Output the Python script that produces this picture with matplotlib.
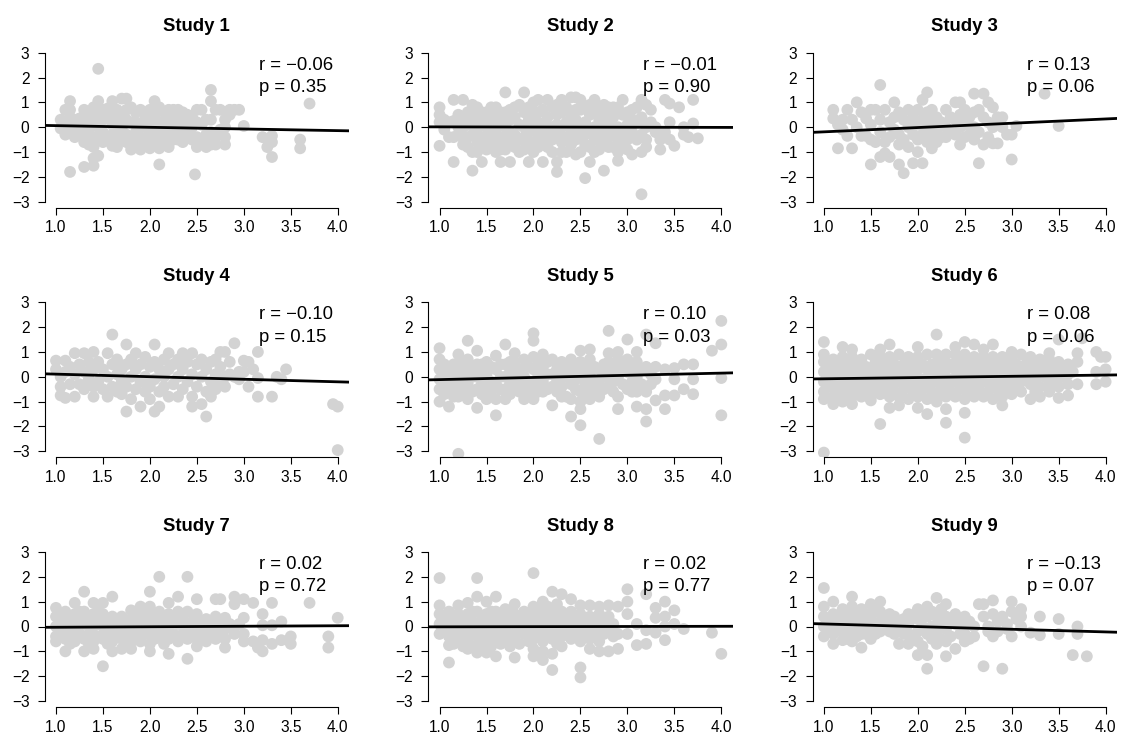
import numpy as np
from matplotlib import pyplot as plt

plt.rcParams['font.family'] = ['Liberation Sans', 'DejaVu Sans']

# each study: (x, [y values at that x])
study1 = [(1.05, [-0.05, 0.3]), (1.1, [0.7, 0.1, -0.3]), (1.15, [1.05, 0.7, 0.4, -0.2, -1.8]),
          (1.2, [0.3, -0.4, 0.0]), (1.25, [0.35, -0.2]), (1.3, [0.7, 0.2, -0.3, -0.6, -1.6]),
          (1.35, [0.5, -0.1, -0.7]), (1.4, [0.8, 0.2, -0.4, -0.8, -1.25, -1.55]),
          (1.45, [2.35, 1.05, 0.5, 0.0, -0.5, -1.15]), (1.5, [0.7, 0.3, -0.2, -0.6]),
          (1.55, [0.4, -0.4, 0.75]), (1.6, [1.05, 0.6, 0.1, -0.3, -0.75]), (1.65, [0.7, 0.3, -0.1, -0.5, -0.8]),
          (1.7, [1.15, 0.5, 0.0, -0.5]), (1.75, [1.15, 0.7, 0.3, -0.3, -0.6]), (1.8, [0.8, 0.2, -0.5, -0.9]),
          (1.85, [0.6, 0.2, -0.2, -0.6]), (1.9, [0.7, 0.1, -0.4, -0.9]), (1.95, [0.4, 0.0, -0.6]),
          (2.0, [0.7, 0.3, -0.3, -0.85]), (2.05, [1.05, 0.5, 0.0, -0.6]), (2.1, [0.8, 0.2, -0.4, -0.85, -1.5]),
          (2.15, [0.6, 0.2, -0.2, -0.6]), (2.2, [0.7, 0.3, -0.3, -0.8]), (2.25, [0.7, 0.3, 0.0, -0.5]),
          (2.3, [0.7, 0.3, -0.2, -0.5]), (2.35, [0.6, 0.1, -0.3, -0.6]), (2.4, [0.5, 0.2, -0.2]),
          (2.45, [0.4, 0.0, -0.5]), (2.48, [-1.9]), (2.5, [0.7, 0.2, -0.4, -0.8]), (2.55, [0.7, 0.1, -0.5]),
          (2.6, [0.3, -0.3, -0.8]), (2.65, [1.5, 1.05, 0.3, -0.2, -0.7]), (2.7, [0.7, -0.4, -0.7]),
          (2.75, [0.7, -0.1]), (2.8, [0.3, -0.4, -0.7, 0.0]), (2.85, [0.7, 0.5]), (2.9, [0.7]),
          (2.95, [0.7]), (3.0, [0.05]), (3.2, [-0.4]), (3.25, [-0.8]), (3.3, [-0.35, -0.6, -1.2]),
          (3.6, [-0.5, -0.85]), (3.7, [0.95])]

study2 = [(1.0, [0.8, 0.5, 0.2, -0.75]), (1.05, [0.3, -0.1]), (1.1, [0.2, -0.4]),
          (1.15, [1.1, 0.25, -0.4, -1.4]), (1.2, [0.5, 0.0, -0.3]), (1.25, [1.1, 0.4, 0.0, -0.4, -0.7]),
          (1.3, [0.6, 0.1, -0.4, -0.8]), (1.35, [0.9, 0.3, -0.3, -1.0, -1.75]),
          (1.4, [0.8, 0.5, -0.1, -0.6, -1.0]), (1.45, [0.6, 0.2, -0.4, -0.8, -1.4]), (1.5, [0.6, 0.0, -0.5, -0.9]),
          (1.55, [0.8, 0.3, -0.2, -0.7]), (1.6, [0.8, 0.4, -0.1, -0.6, -1.0]), (1.65, [0.6, 0.2, -0.4, -0.9, -1.4]),
          (1.7, [1.4, 0.6, 0.0, -0.5, -0.9]), (1.75, [0.7, 0.3, -0.2, -0.7, -1.4]), (1.8, [0.8, 0.4, -0.3, -0.8]),
          (1.85, [0.9, 0.1, -0.5, -1.0]), (1.9, [1.4, 0.6, 0.0, -0.4, -0.9]), (1.95, [0.8, 0.3, -0.2, -0.6, -1.4]),
          (2.0, [1.0, 0.5, -0.1, -0.6, -1.0]), (2.05, [1.1, 0.6, 0.2, -0.3, -0.8]), (2.1, [0.7, 0.1, -0.5, -1.4]),
          (2.15, [1.1, 0.4, -0.2, -0.8]), (2.2, [0.8, 0.0, -0.5, -1.0]), (2.25, [0.9, 0.5, 0.1, -0.3, -1.4, -1.8]),
          (2.3, [1.1, 0.6, 0.0, -0.6, -1.0]), (2.35, [0.8, 0.2, -0.4, -1.0]), (2.4, [1.2, 0.5, -0.1, -0.7]),
          (2.45, [1.2, 0.7, 0.3, -0.1, -0.5, -1.1]), (2.5, [1.1, 0.7, 0.0, -0.4, -1.0]),
          (2.55, [0.8, 0.2, -0.3, -0.7, -2.05]), (2.6, [0.9, 0.5, -0.2, -0.8, -1.4]),
          (2.65, [1.1, 0.6, 0.0, -0.5, -1.0]), (2.7, [0.8, 0.3, -0.3, -0.9]),
          (2.75, [0.9, 0.5, -0.1, -0.6, -1.75]), (2.8, [0.8, 0.2, -0.4, -0.8]), (2.85, [0.8, 0.4, -0.2, -0.8]),
          (2.9, [0.8, 0.0, -0.5, -1.0, -1.35]), (2.95, [1.1, 0.5, -0.2, -0.6]), (3.0, [0.6, 0.1, -0.5, -0.9]),
          (3.05, [0.7, 0.3, -0.2, -1.1]), (3.1, [0.8, 0.2, -0.5]), (3.15, [1.1, 0.4, -0.3, -1.0, -2.7]),
          (3.2, [0.9, 0.0, -0.5, -0.8]), (3.25, [0.7, 0.2]), (3.3, [0.0, -0.2]), (3.35, [-0.5, -0.9]),
          (3.4, [1.1, -0.2]), (3.45, [0.95, 0.2, -0.5]), (3.5, [-0.75]), (3.55, [0.8]),
          (3.6, [0.0, -0.3]), (3.65, [-0.4]), (3.7, [1.1, 0.15]), (3.75, [-0.45])]

study3 = [(1.1, [0.7, 0.35]), (1.15, [-0.85, 0.1]), (1.2, [0.3, -0.1]), (1.25, [0.7, -0.35]),
          (1.3, [0.3, -0.85]), (1.35, [1.0, 0.0]), (1.4, [0.6, -0.35]), (1.45, [0.35, -0.35]),
          (1.5, [0.7, 0.1, -0.5, -1.5]), (1.55, [0.7, -0.6]), (1.6, [1.7, 0.3, -0.2, -1.2]),
          (1.65, [0.7, -0.6, -1.05]), (1.7, [0.2, -0.4, -1.2]), (1.75, [1.0, 0.4, -0.1]),
          (1.8, [0.6, -0.3, -0.7, -1.5]), (1.85, [0.3, -0.5, -1.85]), (1.9, [0.7, 0.0, -0.8]),
          (1.95, [0.4, -0.3, -1.45]), (2.0, [0.7, 0.1, -0.5, -1.0]), (2.05, [1.1, 0.3, -0.3, -1.45]),
          (2.1, [1.4, 0.6, 0.0, -0.6]), (2.15, [0.7, 0.2, -0.4, -0.85]), (2.2, [0.4, -0.2, -0.6]),
          (2.25, [0.2, -0.4]), (2.3, [0.7, 0.0, -0.4]), (2.35, [0.4, -0.2]), (2.4, [1.0, 0.3, -0.3]),
          (2.45, [1.0, 0.5, 0.0, -0.7]), (2.5, [0.7, 0.1, -0.4]), (2.55, [0.4, -0.3]),
          (2.6, [1.35, 0.6, 0.0, -0.5]), (2.65, [0.7, -0.2, -1.45]), (2.7, [1.35, 0.4, -0.7]),
          (2.75, [1.0, 0.2, -0.4]), (2.8, [0.8, 0.0, -0.65]), (2.85, [0.4, -0.65]), (2.9, [0.4, 0.0]),
          (2.95, [-0.3]), (3.0, [-0.3, -1.3]), (3.05, [0.05]), (3.35, [1.35]), (3.5, [0.05])]

study4 = [(1.0, [0.65, 0.3]), (1.05, [0.0, -0.4, -0.75]), (1.1, [0.65, 0.2, -0.85]), (1.15, [0.4, -0.3]),
          (1.2, [0.95, 0.1, -0.8]), (1.25, [0.5, -0.3]), (1.3, [0.95, 0.2, -0.5]), (1.35, [0.6, -0.1]),
          (1.4, [1.0, 0.3, -0.4, -0.8]), (1.45, [0.6, -0.2]), (1.5, [0.3, -0.5]), (1.55, [0.95, 0.0, -0.8]),
          (1.6, [1.7, 0.5, -0.4]), (1.65, [0.7, 0.1, -0.6]), (1.7, [0.3, -0.2, -0.7]),
          (1.75, [1.3, 0.5, -0.4, -1.4]), (1.8, [0.7, 0.0, -0.9]), (1.85, [0.95, 0.3, -0.5]),
          (1.9, [0.5, -0.2, -1.2]), (1.95, [0.8, 0.0, -0.6]), (2.0, [0.4, -0.4, -0.9]),
          (2.05, [1.3, 0.6, -0.1, -1.4]), (2.1, [0.3, -0.6, -1.2]), (2.15, [0.7, 0.0, -0.4]),
          (2.2, [0.95, 0.3, -0.8]), (2.25, [0.5, -0.3]), (2.3, [0.7, 0.0, -0.8]), (2.35, [0.95, 0.3, -0.5]),
          (2.4, [0.6, -0.2]), (2.45, [0.95, 0.1, -0.8, -1.2]), (2.5, [0.5, -0.4]), (2.55, [0.7, 0.0, -1.1]),
          (2.6, [0.3, -0.6, -1.6]), (2.65, [0.6, -0.2, -0.8]), (2.7, [0.7, 0.1, -0.5]),
          (2.75, [1.0, 0.4, -0.3]), (2.8, [1.0, 0.0, -0.4]), (2.85, [0.6, 0.1]), (2.9, [1.35, 0.0]),
          (2.95, [0.2, -0.1]), (3.0, [0.65, 0.2]), (3.05, [-0.4, 0.6]), (3.1, [0.3]),
          (3.15, [1.0, -0.05, -0.8]), (3.3, [-0.8]), (3.35, [0.0]), (3.4, [-0.1]), (3.45, [0.3]),
          (3.95, [-1.1]), (4.0, [-1.2, -2.95])]

study5 = [(1.0, [1.15, 0.7, 0.3, -0.1, -0.5, -1.0]), (1.05, [0.5, 0.0, -0.4, -0.7]),
          (1.1, [0.4, 0.0, -0.2, -0.6, -1.2]), (1.15, [0.5, 0.2, -0.4, -0.8]),
          (1.2, [0.9, 0.5, 0.0, -0.5, -0.8, -3.1]), (1.25, [0.5, 0.3, -0.2, -0.6]),
          (1.3, [1.45, 0.7, 0.2, -0.3, -0.9]), (1.35, [0.4, 0.0, -0.6]), (1.4, [1.05, 0.5, 0.0, -0.5, -1.25]),
          (1.45, [0.5, 0.2, -0.3, -0.7]), (1.5, [0.6, 0.1, -0.4, -0.9]), (1.55, [0.4, -0.2, -0.6]),
          (1.6, [0.85, 0.3, -0.3, -0.9, -1.55]), (1.65, [0.5, 0.0, -0.5]), (1.7, [1.3, 0.5, 0.0, -0.5, -0.9]),
          (1.75, [0.6, 0.3, -0.3, -0.7]), (1.8, [0.95, 0.6, 0.1, -0.4]), (1.85, [0.3, -0.2, -0.6]),
          (1.9, [0.7, 0.0, -0.4, -0.9]), (1.95, [0.4, -0.2, -0.6]), (2.0, [1.75, 1.45, 0.8, 0.3, -0.3, -0.9]),
          (2.05, [0.5, 0.0, -0.6]), (2.1, [0.9, 0.4, -0.2, -0.6]), (2.15, [0.6, 0.1, -0.5]),
          (2.2, [0.7, 0.1, -0.4, -1.15]), (2.25, [0.5, 0.3, -0.2, -0.6]), (2.3, [0.6, 0.0, -0.4, -0.8]),
          (2.35, [0.4, 0.0, -0.8]), (2.4, [0.7, 0.2, -0.3, -0.9, -1.6]), (2.45, [0.4, -0.1, -0.5]),
          (2.5, [1.05, 0.6, 0.0, -0.6, -1.0, -1.3, -1.95]), (2.55, [0.3, -0.3, -0.7]),
          (2.6, [1.1, 0.7, 0.1, -0.5, -0.9]), (2.65, [0.4, -0.2, -0.6]), (2.7, [0.3, -0.3, -0.8, -2.5]),
          (2.75, [0.5, 0.0, -0.5]), (2.8, [1.85, 0.95, 0.6, 0.2, -0.4]), (2.85, [0.3, -0.2, -0.6]),
          (2.9, [1.0, 0.7, 0.0, -0.8, -1.3]), (2.95, [0.4, -0.3]), (3.0, [1.5, 0.7, 0.2, -0.5]),
          (3.05, [0.4, -0.2, -0.6]), (3.1, [1.0, 0.6, 0.0, -0.6, -1.2]), (3.15, [0.3, -0.3]),
          (3.2, [1.7, 0.4, -0.6, -1.3, -1.8]), (3.25, [0.1, -0.3]), (3.3, [1.35, 0.4, -0.1, -0.95]),
          (3.4, [0.3, -0.75, -1.3]), (3.5, [0.35, -0.1, -0.75]), (3.6, [0.5, -0.5]),
          (3.7, [0.5, -0.1, -0.7]), (3.9, [1.05]), (4.0, [2.25, 1.3, -0.05, -1.55])]

study6 = [(1.0, [1.4, 0.9, 0.6, 0.2, -0.2, -0.6, -0.9, -3.05]), (1.05, [0.4, 0.0, -0.4]),
          (1.1, [0.7, 0.2, -0.3, -0.8, -1.1]), (1.15, [0.5, -0.1, -0.5]), (1.2, [1.2, 0.8, 0.3, -0.2, -0.7, -1.0]),
          (1.25, [0.5, 0.0, -0.5]), (1.3, [1.1, 0.8, 0.2, -0.3, -0.8, -1.1]), (1.35, [0.5, -0.1, -0.6]),
          (1.4, [0.7, 0.2, -0.3, -0.8]), (1.45, [0.4, -0.1, -0.5]), (1.5, [0.9, 0.3, -0.2, -0.7, -0.95]),
          (1.55, [0.6, 0.0, -0.5]), (1.6, [1.1, 0.8, 0.3, -0.2, -0.7, -1.9]), (1.65, [0.5, 0.0, -0.5]),
          (1.7, [1.3, 0.8, 0.2, -0.3, -0.8, -1.25]), (1.75, [0.5, 0.0, -0.6]),
          (1.8, [0.9, 0.3, -0.2, -0.8, -1.15]), (1.85, [0.5, -0.1, -0.5]), (1.9, [0.8, 0.2, -0.3, -0.9]),
          (1.95, [0.5, 0.0, -0.6]), (2.0, [1.2, 0.8, 0.3, -0.2, -0.8, -1.25]), (2.05, [0.5, -0.1, -0.5]),
          (2.1, [0.9, 0.3, -0.3, -0.9, -1.5]), (2.15, [0.5, 0.0, -0.6]), (2.2, [1.7, 0.9, 0.3, -0.2, -0.7, -1.0]),
          (2.25, [0.6, 0.0, -0.5]), (2.3, [0.9, 0.3, -0.3, -0.8, -1.3, -1.85]), (2.35, [0.5, -0.1, -0.6]),
          (2.4, [1.2, 0.9, 0.3, -0.2, -0.8]), (2.45, [0.6, 0.0, -0.5]),
          (2.5, [1.4, 0.9, 0.3, -0.3, -0.9, -1.45, -2.45]), (2.55, [0.5, 0.0, -0.6]),
          (2.6, [1.3, 0.8, 0.2, -0.3, -0.8]), (2.65, [0.5, -0.1, -0.5]), (2.7, [1.1, 0.8, 0.3, -0.2, -0.8]),
          (2.75, [0.5, 0.0, -0.6]), (2.8, [1.3, 0.8, 0.2, -0.3, -0.9]), (2.85, [0.5, -0.1, -0.5]),
          (2.9, [0.8, 0.3, -0.3, -0.8, -1.15]), (2.95, [0.5, 0.0, -0.5]), (3.0, [1.0, 0.8, 0.2, -0.3, -0.7]),
          (3.05, [0.5, 0.0, -0.5]), (3.1, [0.9, 0.3, -0.2, -0.6]), (3.15, [0.5, 0.0]),
          (3.2, [0.8, 0.3, -0.3, -0.9]), (3.25, [0.5, -0.1, -0.6]), (3.3, [0.7, 0.2, -0.4, -0.8]),
          (3.35, [0.4, 0.0]), (3.4, [0.95, 0.7, 0.2, -0.3, -0.6]), (3.45, [0.4, -0.1]),
          (3.5, [1.5, 0.6, 0.2, -0.4, -0.85]), (3.55, [0.3, 0.0]), (3.6, [0.5, 0.1, -0.3, -0.75]),
          (3.65, [0.2]), (3.7, [0.95, 0.6, -0.3]), (3.75, [1.55]), (3.9, [1.0, 0.2, -0.3]),
          (3.95, [0.8]), (4.0, [0.8, 0.3, -0.2])]

study7 = [(1.0, [0.75, 0.4, 0.0, -0.4, -0.6]), (1.05, [0.5, 0.2, -0.2]), (1.1, [0.6, 0.1, -0.5, -1.0]),
          (1.15, [0.3, -0.3, -0.7]), (1.2, [0.95, 0.5, 0.0, -0.6]), (1.25, [0.6, 0.3, -0.3]),
          (1.3, [1.4, 0.6, 0.1, -0.5, -1.0]), (1.35, [0.3, -0.3, -0.7]), (1.4, [0.95, 0.5, 0.0, -0.6, -0.9]),
          (1.45, [0.6, 0.2, -0.4]), (1.5, [0.95, 0.5, 0.0, -0.5, -1.6]), (1.55, [0.3, -0.3, -0.7]),
          (1.6, [1.2, 0.4, -0.1, -0.6, -1.0]), (1.65, [0.2, -0.4]), (1.7, [0.4, 0.0, -0.5, -0.9]),
          (1.75, [0.2, -0.3, -0.7]), (1.8, [0.65, 0.3, -0.1, -0.6, -0.9]), (1.85, [0.5, 0.1, -0.3]),
          (1.9, [0.8, 0.4, 0.0, -0.6]), (1.95, [0.6, 0.2, -0.3]), (2.0, [1.4, 0.8, 0.3, -0.2, -0.7, -1.0]),
          (2.05, [0.5, 0.0, -0.5]), (2.1, [2.0, 0.6, 0.1, -0.4]), (2.15, [0.3, -0.2, -0.7]),
          (2.2, [0.95, 0.5, 0.0, -0.5, -1.1]), (2.25, [0.2, -0.3]), (2.3, [1.2, 0.6, 0.1, -0.6]),
          (2.35, [0.3, -0.3]), (2.4, [2.0, 0.6, 0.0, -0.5, -1.3]), (2.45, [0.2, -0.3]),
          (2.5, [1.1, 0.5, 0.0, -0.5, -0.8]), (2.55, [0.2, -0.3]), (2.6, [0.3, -0.1, -0.6]),
          (2.65, [0.2, -0.4]), (2.7, [1.1, 0.4, 0.0, -0.5]), (2.75, [1.1, 0.2, -0.3]),
          (2.8, [0.35, -0.1, -0.5, -0.85]), (2.85, [0.1]), (2.9, [1.2, 0.9, 0.0, -0.3]), (2.95, [0.1]),
          (3.0, [1.1, 0.35, -0.3, -0.6]), (3.1, [0.95, -0.6]), (3.15, [-0.85]),
          (3.2, [0.5, 0.05, -0.55, -1.0]), (3.3, [0.95, 0.05, -0.7]), (3.4, [0.2, -0.55]),
          (3.5, [-0.4, -0.7]), (3.7, [0.95]), (3.9, [-0.4, -0.85]), (4.0, [0.35])]

study8 = [(1.0, [1.95, 0.85, 0.5, 0.1, -0.3]), (1.05, [0.3, -0.1]), (1.1, [0.6, 0.1, -0.4, -0.75, -1.45]),
          (1.15, [0.3, -0.2, -0.7]), (1.2, [0.85, 0.5, 0.0, -0.5]), (1.25, [0.2, -0.3, -0.8]),
          (1.3, [0.95, 0.5, 0.0, -0.5, -0.9]), (1.35, [0.6, 0.2, -0.3, -0.8]),
          (1.4, [1.95, 1.2, 0.6, 0.1, -0.4, -1.05]), (1.45, [0.3, -0.2, -0.7]),
          (1.5, [1.0, 0.5, 0.0, -0.5, -1.05]), (1.55, [0.6, 0.2, -0.3, -0.8]), (1.6, [1.2, 0.6, 0.1, -0.4, -1.2]),
          (1.65, [0.3, -0.2, -0.7]), (1.7, [0.7, 0.4, 0.0, -0.5]), (1.75, [0.6, 0.2, -0.3, -0.8]),
          (1.8, [0.9, 0.5, 0.1, -0.4, -1.25]), (1.85, [0.3, -0.2, -0.7]), (1.9, [0.6, 0.2, -0.3]),
          (1.95, [0.4, -0.1, -0.6]), (2.0, [2.15, 0.8, 0.4, 0.0, -0.5, -0.9, -1.2]), (2.05, [0.6, 0.2, -0.3]),
          (2.1, [1.0, 0.5, 0.0, -0.6, -1.0, -1.35]), (2.15, [0.8, 0.3, -0.2]),
          (2.2, [1.4, 0.6, 0.1, -0.5, -1.1, -1.75]), (2.25, [0.9, 0.3, -0.2, -0.7]),
          (2.3, [1.3, 0.6, 0.0, -0.4, -0.8]), (2.35, [0.3, -0.2]), (2.4, [1.1, 0.6, 0.0, -0.5]),
          (2.45, [0.3, -0.3]), (2.5, [0.85, 0.5, 0.0, -0.6, -1.65, -2.05]), (2.55, [0.3, -0.3]),
          (2.6, [0.85, 0.4, -0.1, -0.5, -0.9]), (2.65, [0.2, -0.3]), (2.7, [0.8, 0.5, 0.0, -0.6, -1.0]),
          (2.75, [0.2, -0.3]), (2.8, [0.85, 0.4, -0.1, -1.0]), (2.85, [0.1, -0.4]),
          (2.9, [0.8, -0.3, -0.9]), (3.0, [1.5, 1.0, 0.5, -0.3]), (3.1, [0.1, -0.75]),
          (3.2, [1.3, -0.15, -0.7]), (3.3, [0.75, 0.35, -0.25]), (3.4, [1.0, 0.4, 0.0, -0.55]),
          (3.5, [0.65, 0.1]), (3.6, [-0.1]), (3.9, [-0.25]), (4.0, [-1.1])]

study9 = [(1.0, [1.55, 0.8, 0.4, 0.0, -0.4]), (1.05, [0.2, -0.2]), (1.1, [1.0, 0.5, 0.1, -0.3, -0.7]),
          (1.15, [0.3, -0.1]), (1.2, [0.7, 0.3, -0.2, -0.55]), (1.25, [0.5, 0.0, -0.5]),
          (1.3, [1.2, 0.8, 0.3, -0.2, -0.6]), (1.35, [0.5, 0.0, -0.4]), (1.4, [0.7, 0.3, -0.3, -0.85]),
          (1.45, [0.5, 0.0, -0.3]), (1.5, [0.9, 0.3, -0.1, -0.5]), (1.55, [0.6, 0.1, -0.3]),
          (1.6, [1.0, 0.6, 0.2, -0.2]), (1.65, [0.4, -0.1]), (1.7, [0.5, 0.1, -0.2]), (1.75, [0.4, -0.3]),
          (1.8, [0.2, 0.0, -0.7]), (1.85, [0.3, -0.3]), (1.9, [0.5, 0.1, -0.3, -0.7]), (1.95, [0.4, -0.4]),
          (2.0, [0.7, 0.3, -0.2, -0.6, -1.15]), (2.05, [0.6, 0.0, -0.8]), (2.1, [0.8, 0.4, -0.3, -1.15, -1.7]),
          (2.15, [0.6, 0.0, -0.5]), (2.2, [1.15, 0.4, -0.2, -0.7]), (2.25, [0.7, 0.1, -0.5]),
          (2.3, [0.9, 0.4, -0.1, -0.6, -1.2]), (2.35, [0.2, -0.4]), (2.4, [0.5, 0.1, -0.9]),
          (2.45, [0.2, -0.3]), (2.5, [0.4, 0.0, -0.3, -0.6]), (2.55, [0.2, -0.5]), (2.6, [0.0, -0.4]),
          (2.65, [0.9]), (2.7, [0.9, 0.4, -1.6]), (2.75, [0.0, -0.2]), (2.8, [1.05, 0.5, -0.4]),
          (2.85, [0.2, -0.2]), (2.9, [0.4, -1.7]), (2.95, [0.1, -0.1]), (3.0, [1.0, 0.6, -0.4]),
          (3.05, [0.3]), (3.1, [0.7, 0.4, 0.0]), (3.2, [-0.25]), (3.3, [0.4, -0.35]),
          (3.5, [0.3, -0.3]), (3.65, [-1.15]), (3.7, [0.0, -0.3]), (3.8, [-1.2])]

studies = [study1, study2, study3, study4, study5, study6, study7, study8, study9]
titles = ['Study %d' % (i + 1) for i in range(9)]
r_vals = ['\u22120.06', '\u22120.01', '0.13', '\u22120.10', '0.10', '0.08', '0.02', '0.02', '\u22120.13']
p_vals = ['0.35', '0.90', '0.06', '0.15', '0.03', '0.06', '0.72', '0.77', '0.07']
# regression intercept / slope
intercepts = [0.13, 0.02, -0.36, 0.21, -0.20, -0.13, -0.05, -0.02, 0.21]
slopes = [-0.067, -0.007, 0.173, -0.103, 0.087, 0.05, 0.02, 0.007, -0.107]

W, H = 1121, 735
fig = plt.figure(figsize=(W / 100, H / 100), dpi=100)

lefts = [44.7, 428.3, 812.6]
tops = [46.7, 296.3, 546.0]
pw, ph = 304.3, 161.0

for i, data in enumerate(studies):
    row, col = i // 3, i % 3
    ax = fig.add_axes([lefts[col] / W, 1 - (tops[row] + ph) / H, pw / W, ph / H])
    xs = np.array([x for x, ys in data for _ in ys])
    yv = np.array([y for _, ys in data for y in ys])
    ax.scatter(xs, yv, s=72, color='#D3D3D3', edgecolors='none', zorder=1)
    ax.axline((0, intercepts[i]), slope=slopes[i], color='black', lw=2, zorder=2)
    ax.text(3.165, 2.5, 'r = ' + r_vals[i], ha='left', va='center', fontsize=13.3, zorder=3)
    ax.text(3.165, 1.6, 'p = ' + p_vals[i], ha='left', va='center', fontsize=13.3, zorder=3)

    ax.set_xlim(0.88, 4.12)
    ax.set_ylim(-3.24, 3.24)
    ax.set_xticks([1.0, 1.5, 2.0, 2.5, 3.0, 3.5, 4.0])
    ax.set_xticklabels(['1.0', '1.5', '2.0', '2.5', '3.0', '3.5', '4.0'])
    ax.set_yticks([-3, -2, -1, 0, 1, 2, 3])
    for s in ['top', 'right']:
        ax.spines[s].set_visible(False)
    ax.spines['left'].set_bounds(-3, 3)
    ax.spines['bottom'].set_bounds(1, 4)
    ax.spines['left'].set_linewidth(0.8)
    ax.spines['bottom'].set_linewidth(0.8)
    ax.tick_params(direction='out', length=5, width=0.8, labelsize=11.2, pad=4)
    ax.tick_params(axis='y', pad=6)
    ax.set_title(titles[i], fontsize=13.3, fontweight='bold', pad=11)
    ax.set_facecolor('none')

fig.savefig('out.png', dpi=100)
